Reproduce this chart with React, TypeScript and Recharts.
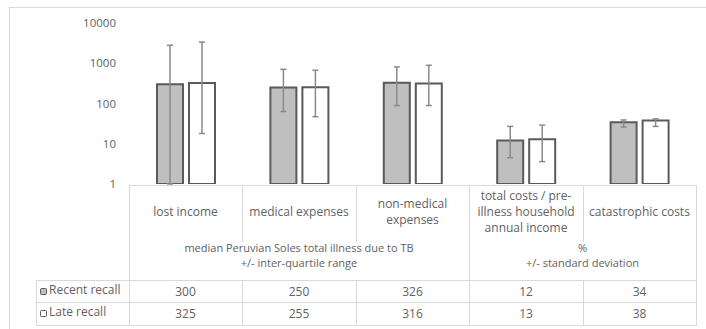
import React from 'react';
import { BarChart, Bar, XAxis, YAxis, ErrorBar } from 'recharts';

const categoryLines: string[][] = [
  ['lost income'],
  ['medical expenses'],
  ['non-medical', 'expenses'],
  ['total costs / pre-', 'illness household', 'annual income'],
  ['catastrophic costs'],
];
const recent = [300, 250, 326, 12, 34];
const late = [325, 255, 316, 13, 38];
const recentLow = [1, 63, 89, 4.5, 26];
const recentHigh = [2800, 708, 810, 27, 39];
const lateLow = [18, 47, 89, 3.6, 27];
const lateHigh = [3350, 670, 890, 29, 41.5];
const yTicks = [1, 10, 100, 1000, 10000];
const groups = [
  { label: ['median Peruvian Soles total illness due to TB', '+/- inter-quartile range'], from: 0, to: 2 },
  { label: ['%', '+/- standard deviation'], from: 3, to: 4 },
];
const seriesNames = ['Recent recall', 'Late recall'];

const data = categoryLines.map((lines, i) => ({
  name: lines.join(' '),
  recent: recent[i],
  late: late[i],
  errRecent: [recent[i] - recentLow[i], recentHigh[i] - recent[i]],
  errLate: [late[i] - lateLow[i], lateHigh[i] - late[i]],
}));

const W = 706;
const H = 329;
const plotLeft = 129;
const plotRight = 696;
const plotTop = 23;
const plotBottom = 184;
const colW = (plotRight - plotLeft) / categoryLines.length;
const tableTop = 185;
const catBottom = 241;
const row1 = 280;
const row2 = 302;
const row3 = 325;
const legendLeft = 36;
const lineColor = '#d9d9d9';
const textColor = '#626262';
const font = "'Open Sans', sans-serif";

const hLine = (x1: number, x2: number, y: number, key: string) => (
  <div key={key} style={{ position: 'absolute', left: x1, top: y, width: x2 - x1 + 1, height: 1, background: lineColor }} />
);
const vLine = (x: number, y1: number, y2: number, key: string) => (
  <div key={key} style={{ position: 'absolute', left: x, top: y1, width: 1, height: y2 - y1 + 1, background: lineColor }} />
);

export default function App() {
  const colX = (i: number) => Math.round(plotLeft + i * colW);
  const groupEdges = new Set<number>([0, ...groups.map((g) => g.to + 1)]);
  const lines: React.ReactNode[] = [];
  lines.push(hLine(plotLeft, plotRight, tableTop, 'ht'));
  lines.push(hLine(legendLeft, plotRight, row1, 'h1'));
  lines.push(hLine(legendLeft, plotRight, row2, 'h2'));
  lines.push(hLine(legendLeft, plotRight, row3, 'h3'));
  lines.push(vLine(legendLeft, row1, row3, 'vl'));
  for (let i = 0; i <= categoryLines.length; i++) {
    if (groupEdges.has(i)) {
      lines.push(vLine(colX(i), tableTop, row3, 'vg' + i));
    } else {
      lines.push(vLine(colX(i), tableTop, catBottom, 'vc' + i));
      lines.push(vLine(colX(i), row1, row3, 'vr' + i));
    }
  }

  const textStyle: React.CSSProperties = {
    position: 'absolute',
    display: 'flex',
    flexDirection: 'column',
    alignItems: 'center',
    justifyContent: 'center',
    textAlign: 'center',
    fontFamily: font,
    fontSize: 12,
    color: textColor,
    whiteSpace: 'nowrap',
  };

  const rowVals = [recent, late];
  const rowTops = [row1, row2];
  const boxFills = ['#bfbfbf', '#ffffff'];

  return (
    <div style={{ position: 'absolute', left: 0, top: 0, width: W, height: H, overflow: 'hidden', background: '#fff' }}>
      <div style={{ position: 'absolute', left: 9, top: 7, width: 800, height: 400, border: `1px solid ${lineColor}` }} />
      <div style={{ position: 'absolute', left: 0, top: 0 }}>
        <BarChart
          width={W}
          height={H}
          data={data}
          margin={{ top: plotTop, right: W - plotRight, bottom: H - plotBottom, left: plotLeft - 60 }}
          barSize={26}
          barGap={6}
        >
          <XAxis dataKey="name" hide />
          <YAxis
            scale="log"
            domain={[1, 10000]}
            ticks={yTicks}
            allowDataOverflow
            width={60}
            axisLine={false}
            tickLine={false}
            tickSize={0}
            tickMargin={13}
            tick={{ fill: textColor, fontSize: 11.5, fontFamily: font }}
          />
          <Bar dataKey="recent" fill="#bfbfbf" stroke="#5a5a5a" strokeWidth={2} isAnimationActive={false}>
            <ErrorBar dataKey="errRecent" width={3} stroke="#8a8a8a" strokeWidth={1.5} />
          </Bar>
          <Bar dataKey="late" fill="#ffffff" stroke="#5a5a5a" strokeWidth={2} isAnimationActive={false}>
            <ErrorBar dataKey="errLate" width={3} stroke="#8a8a8a" strokeWidth={1.5} />
          </Bar>
        </BarChart>
      </div>
      {lines}
      {categoryLines.map((ls, i) => (
        <div key={'c' + i} style={{ ...textStyle, left: colX(i), top: tableTop + 3, width: colX(i + 1) - colX(i), height: catBottom - tableTop - 8, lineHeight: '16px' }}>
          {ls.map((l, j) => (
            <div key={j}>{l}</div>
          ))}
        </div>
      ))}
      {groups.map((g, i) => (
        <div key={'g' + i} style={{ ...textStyle, left: colX(g.from), top: 240, width: colX(g.to + 1) - colX(g.from), height: 30, lineHeight: '15px', fontSize: 11 }}>
          {g.label.map((l, j) => (
            <div key={j}>{l}</div>
          ))}
        </div>
      ))}
      {seriesNames.map((s, r) => (
        <React.Fragment key={'r' + r}>
          <div style={{ position: 'absolute', left: 40, top: rowTops[r] + 8, width: 5, height: 5, border: '1.5px solid #5a5a5a', borderRadius: 1.5, background: boxFills[r] }} />
          <div style={{ ...textStyle, alignItems: 'flex-start', left: 49, top: rowTops[r] - 1, height: 20 }}>{s}</div>
          {rowVals[r].map((v, i) => (
            <div key={i} style={{ ...textStyle, left: colX(i), top: rowTops[r], width: colX(i + 1) - colX(i), height: 22 }}>
              {v}
            </div>
          ))}
        </React.Fragment>
      ))}
    </div>
  );
}
